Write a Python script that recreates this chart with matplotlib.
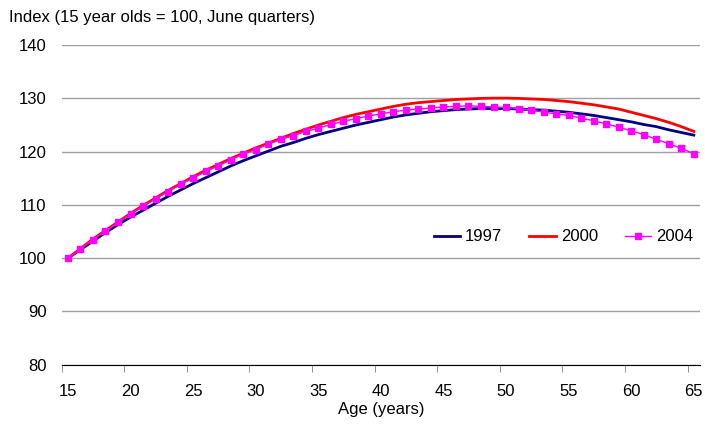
import matplotlib.pyplot as plt
import numpy as np

plt.rcParams['font.family'] = ['Liberation Sans', 'DejaVu Sans']

ages = list(range(15, 66))

idx_1997 = [100.0, 101.6, 103.2, 104.8, 106.3, 107.7, 109.0, 110.3, 111.6, 112.8,
            114.0, 115.1, 116.2, 117.3, 118.3, 119.2, 120.1, 121.0, 121.7, 122.5,
            123.2, 123.8, 124.4, 125.0, 125.5, 126.0, 126.5, 126.9, 127.2, 127.5,
            127.7, 127.9, 128.0, 128.1, 128.1, 128.1, 128.0, 127.9, 127.8, 127.6,
            127.4, 127.1, 126.8, 126.4, 126.0, 125.6, 125.1, 124.7, 124.1, 123.6,
            123.1]

idx_2000 = [100.0, 101.8, 103.6, 105.2, 106.8, 108.4, 109.9, 111.3, 112.7, 114.0,
            115.3, 116.5, 117.6, 118.7, 119.7, 120.7, 121.6, 122.5, 123.4, 124.2,
            125.0, 125.7, 126.4, 127.0, 127.5, 128.0, 128.5, 128.9, 129.2, 129.4,
            129.6, 129.8, 129.9, 130.0, 130.05, 130.05, 130.0, 129.9, 129.8, 129.6,
            129.4, 129.1, 128.8, 128.4, 128.0, 127.4, 126.8, 126.2, 125.5, 124.7,
            123.8]

idx_2004 = [100.0, 101.8, 103.5, 105.1, 106.7, 108.3, 109.7, 111.2, 112.5, 113.9,
            115.0, 116.3, 117.3, 118.5, 119.5, 120.4, 121.4, 122.3, 123.0, 123.8,
            124.4, 125.1, 125.7, 126.2, 126.7, 127.1, 127.5, 127.8, 128.0, 128.2,
            128.4, 128.5, 128.6, 128.5, 128.4, 128.3, 128.1, 127.8, 127.4, 127.1,
            126.8, 126.3, 125.8, 125.2, 124.6, 123.9, 123.2, 122.3, 121.5, 120.6,
            119.6]

fig = plt.figure(figsize=(7.05, 4.3), dpi=100)
ax = fig.add_axes([0.0875, 0.152, 0.9055, 0.743])

ax.plot(ages, idx_1997, color='#000080', lw=2, label='1997')
ax.plot(ages, idx_2000, color='#FF0000', lw=2, label='2000')
ax.plot(ages, idx_2004, color='#FF00FF', lw=1, marker='s', ms=4,
        label='2004')

ax.set_xlim(14.5, 65.5)
ax.set_ylim(80, 140)
ax.set_yticks(range(80, 141, 10))
ax.yaxis.grid(True, color='#a0a0a0', lw=1)
ax.set_axisbelow(True)

# labels sit on the points, tick marks on category boundaries
ax.set_xticks(range(15, 66, 5))
ax.set_xticks(np.arange(14.5, 65, 5), minor=True)
ax.tick_params(axis='x', which='major', length=0, pad=14, labelsize=12)
ax.tick_params(axis='x', which='minor', length=5, color='#808080')
ax.tick_params(axis='y', length=0, pad=11, labelsize=12)

for s in ['top', 'right', 'left']:
    ax.spines[s].set_visible(False)
ax.spines['bottom'].set_color('black')

ax.set_xlabel('Age (years)', fontsize=12, labelpad=2)
fig.text(0.013, 0.96, 'Index (15 year olds = 100, June quarters)',
         fontsize=12, va='center', ha='left')

ax.legend(loc='center', bbox_to_anchor=(0.786, 0.40), ncol=3, frameon=False,
          fontsize=12, handlelength=1.6, handletextpad=0.3, columnspacing=1.6)

fig.savefig('out.png', dpi=100)
